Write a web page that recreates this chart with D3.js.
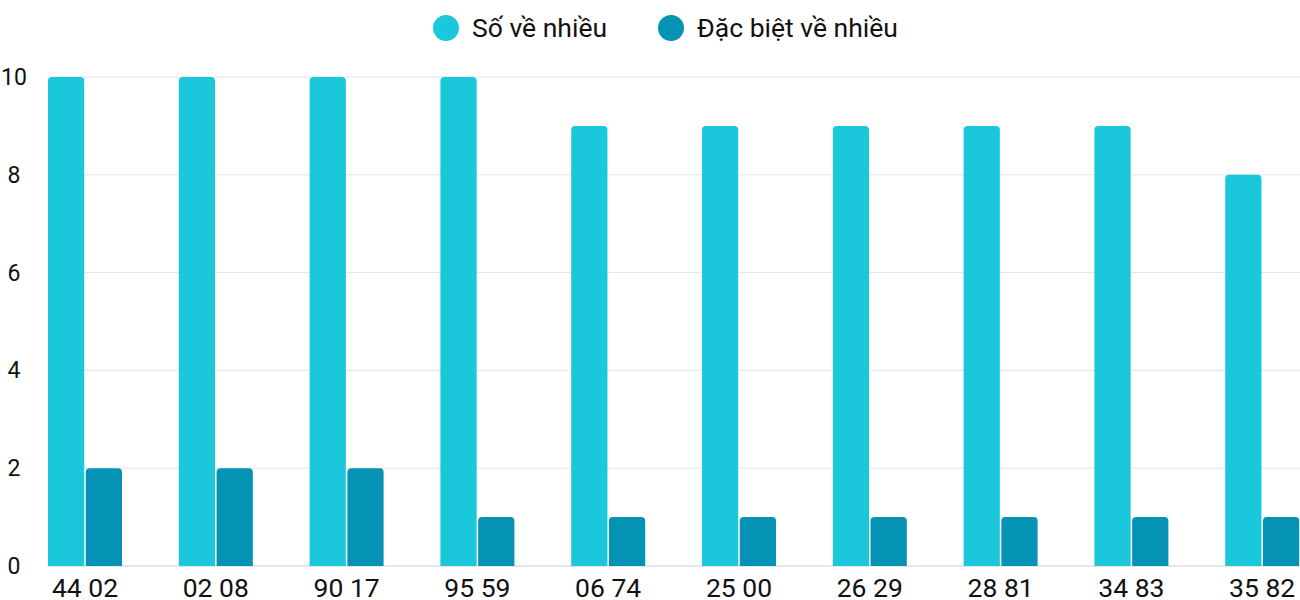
<!DOCTYPE html>
<html><head><meta charset="utf-8">
<script src="https://cdn.jsdelivr.net/npm/d3@7"></script>
<style>body{margin:0;background:#fff}text{font-family:Roboto,sans-serif}</style>
</head><body><svg id="c" width="1300" height="600"></svg>
<script>
const categories = ["44 02","02 08","90 17","95 59","06 74","25 00","26 29","28 81","34 83","35 82"];
const soVeNhieu = [10,10,10,10,9,9,9,9,9,8];
const dacBiet = [2,2,2,1,1,1,1,1,1,1];
const seriesNames = ["Số về nhiều","Đặc biệt về nhiều"];
const colors = ["#1bc8db","#0593b5"];
const yTicks = [0,2,4,6,8,10];

const svg = d3.select("#c");
const y = d3.scaleLinear().domain([0,10]).range([566,77]);
const x0 = d3.scaleBand().domain(categories).range([20,1328]);
const x1 = d3.scaleBand().domain([0,1]).range([28,102]).paddingInner(0.04);

// grid
svg.append("g").selectAll("line").data(yTicks).join("line")
  .attr("x1",48).attr("x2",1300).attr("y1",d=>y(d)).attr("y2",d=>y(d))
  .attr("stroke",d=>d===0?"#ccc":"#e4e4e4").attr("stroke-width",1);
svg.append("g").selectAll("text").data(yTicks).join("text")
  .attr("x",14).attr("y",d=>y(d)+8).attr("text-anchor","middle")
  .attr("font-size",23).attr("fill","#111").text(d=>d);

// bars with rounded tops
function topRounded(x,yt,w,h,r){
  return `M${x},${yt+h}V${yt+r}Q${x},${yt} ${x+r},${yt}H${x+w-r}Q${x+w},${yt} ${x+w},${yt+r}V${yt+h}Z`;
}
const series = [soVeNhieu, dacBiet];
series.forEach((vals,si)=>{
  svg.append("g").selectAll("path").data(categories).join("path")
    .attr("fill",colors[si])
    .attr("d",(c,i)=>{
      const xx = x0(c)+x1(si), yt = y(vals[i]);
      return topRounded(xx,yt,x1.bandwidth(),y(0)-yt,4);
    });
});

// x labels
svg.append("g").selectAll("text").data(categories).join("text")
  .attr("x",c=>x0(c)+65).attr("y",597).attr("text-anchor","middle")
  .attr("font-size",26.5).attr("fill","#111").text(c=>c);

// legend
const leg = [{x:446,t:seriesNames[0]},{x:671,t:seriesNames[1]}];
leg.forEach((l,i)=>{
  svg.append("circle").attr("cx",l.x).attr("cy",28).attr("r",13).attr("fill",colors[i]);
  svg.append("text").attr("x",l.x+26).attr("y",37).attr("font-size",26.5).attr("fill","#111").text(l.t);
});
</script></body></html>
